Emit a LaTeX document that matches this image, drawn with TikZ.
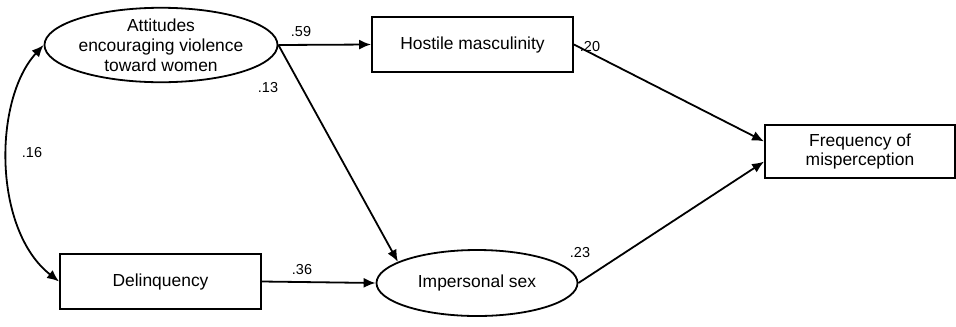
\documentclass[tikz,border=0pt]{standalone}
\usepackage{fontspec}
\setmainfont{Liberation Sans}
\usetikzlibrary{arrows.meta,shapes.geometric}

\tikzset{
  kasten/.style={draw,line width=1.8bp,minimum width=201bp,minimum height=55bp,
    inner sep=0pt,align=center,font=\fontsize{17.5}{20}\selectfont},
  oval/.style={draw,ellipse,line width=1.8bp,minimum width=202bp,minimum height=74bp,
    inner sep=0pt,align=center,font=\fontsize{17.5}{20}\selectfont},
  pfad/.style={line width=1.8bp,-{Latex[length=12bp,width=10bp]}},
  gewicht/.style={inner sep=0pt,font=\fontsize{14.5}{17}\selectfont}
}

\begin{document}
\begin{tikzpicture}[yscale=-1,x=1bp,y=1bp]
  \useasboundingbox (0,0) rectangle (956,326);

  % --- Variablen ---
  \node[oval] (att) at (161,45) {Attitudes\\encouraging violence\\toward women};
  \node[kasten] (host) at (472.5,44.5) {Hostile masculinity};
  \node[kasten,minimum width=190bp,minimum height=53bp] (freq) at (860,151.5) {Frequency of\\misperception};
  \node[kasten] (del) at (160.5,281.5) {Delinquency};
  \node[oval,minimum width=201bp,minimum height=66bp] (imp) at (477,283) {Impersonal sex};

  % --- Pfade ---
  \draw[pfad] (att.east) -- (host.west);
  \draw[pfad] (att.east) -- (imp.165);
  \draw[pfad] (del.east) -- (imp.west);
  \draw[pfad] (host.east) -- (freq.174);
  \draw[pfad] (imp.east) -- (freq.186);

  % --- Korrelation ---
  \draw[line width=1.8bp,{Latex[length=12bp,width=10bp]}-{Latex[length=12bp,width=10bp]}]
    (att.west) .. controls (-7,100) and (-7,230) .. (del.west);

  % --- Koeffizienten ---
  \node[gewicht] (w59) at (301,32) {.59};
  \node[gewicht] (w13) at (268,88) {.13};
  \node[gewicht] (w16) at (32,153) {.16};
  \node[gewicht] (w36) at (302,270) {.36};
  \node[gewicht] (w20) at (590,47) {.20};
  \node[gewicht] (w23) at (580,253) {.23};

\end{tikzpicture}
\end{document}
